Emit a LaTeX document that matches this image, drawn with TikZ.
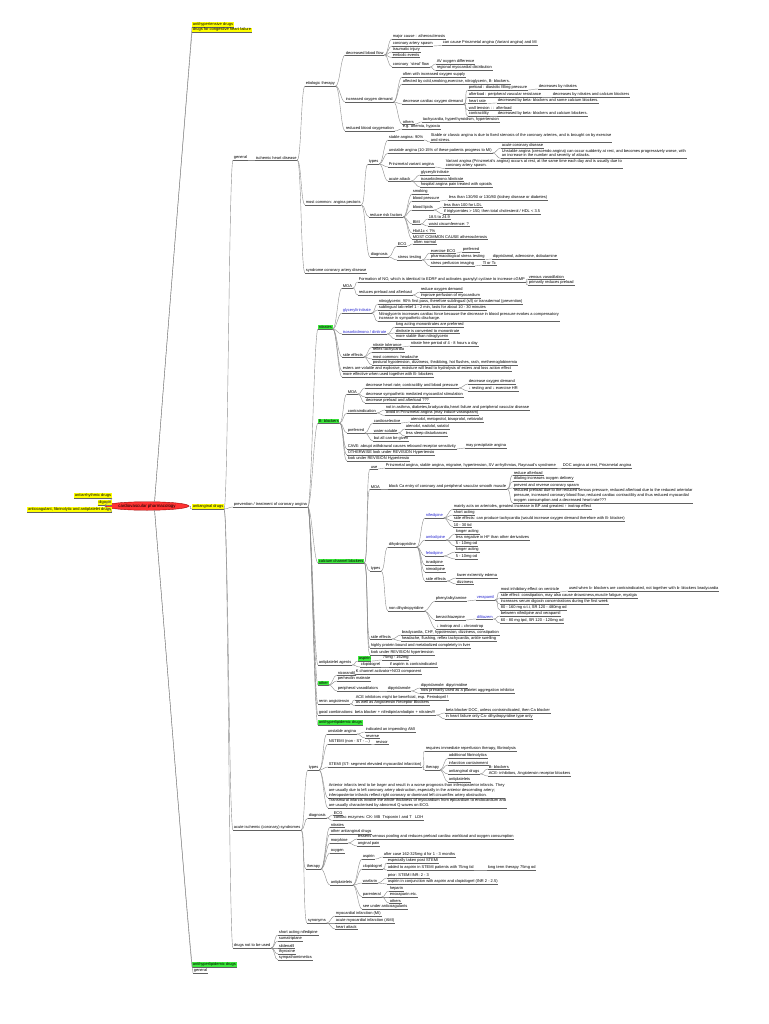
\documentclass[tikz,border=0pt]{standalone}
\usepackage{fontspec}
\setmainfont{Liberation Sans}
\usetikzlibrary{shapes.geometric}
\definecolor{hly}{RGB}{255,255,0}
\definecolor{hlg}{RGB}{60,235,60}
\definecolor{cred}{RGB}{255,50,50}
\definecolor{cblu}{RGB}{40,40,210}
\tikzset{
  ul/.style={draw=black!62,line width=0.55pt},
  cnx/.style={draw=black!45,line width=0.4pt},
  tn/.style={anchor=south west,inner xsep=0.6pt,inner ysep=0.5pt,yshift=-2pt,
    font=\fontsize{4}{4.9}\selectfont,align=left,
    append after command={(\tikzlastnode.south west) edge[ul] (\tikzlastnode.south east)}},
  tnl/.style={tn,anchor=south east},
  yel/.style={fill=hly},
  grn/.style={fill=hlg},
  blu/.style={text=cblu},
}
\newcommand\ch[6][]{\node[tn,#1] (#3) at (#4,#5) {#6};
  \draw[cnx] (#2.south east) .. controls +(4,0) and +(-4,0) .. (#3.south west);}
\begin{document}
\begin{tikzpicture}[x=1pt,y=-1pt]
\useasboundingbox[fill=white] (0,0) rectangle (768,1024);
% centre
\node[ellipse,fill=cred,draw=red!60!black,line width=0.4pt,inner xsep=1pt,inner ysep=0pt,
  minimum width=70pt,minimum height=8.5pt,font=\fontsize{4.4}{5}\selectfont] (cen) at (147,506) {cardiovascular pharmacology};
% left
\node[tnl,yel] (arr) at (112,496) {antiarrhythmic drugs};
\node[tnl,yel] (dig) at (112,503) {digoxin};
\node[tnl,yel] (acg) at (112,510) {anticoagulant, fibrinolytic and antiplatelet drugs};
\foreach \n in {arr,dig,acg} \draw[cnx] (cen.west) .. controls +(-2,0) and +(2,0) .. (\n.south east);
% right top/bottom
\node[tn,yel] (aht) at (192,25) {antihypertensive drugs};
\node[tn,yel] (chf) at (192,30.5) {drugs for congestive heart failure};
\node[tn,yel] (aa) at (192,507) {antianginal drugs};
\node[tn,grn] (ahl) at (192,965) {antihyperlipidemic drugs};
\node[tn] (gen2) at (193,971) {general};
\draw[cnx] (cen.30) .. controls (170,300) and (188,80) .. (aht.south west);
\draw[cnx] (cen.30) .. controls (170,300) and (188,80) .. (chf.south west);
\draw[cnx] (cen.east) .. controls +(4,0) and +(-4,0) .. (aa.south west);
\draw[cnx] (cen.-30) .. controls (170,700) and (188,930) .. (ahl.south west);
\draw[cnx] (cen.-30) .. controls (170,700) and (188,930) .. (gen2.south west);
% antianginal
\ch{aa}{gen}{233}{158}{general}
\ch{aa}{prev}{233}{505}{prevention / treatment of coronary angina}
\ch{aa}{acs}{233}{828}{acute ischemic (coronary) syndromes}
\ch{aa}{dnu}{233}{946}{drugs not to be used}
% general
\ch{gen}{ihd}{255}{158}{ischemic heart disease}
\ch{ihd}{et}{305}{84}{etiologic therapy}
\ch{ihd}{mc}{305}{203}{most common: angina pectoris}
\ch{ihd}{syn}{305}{271}{syndrome coronary artery disease}
\ch{et}{dbf}{345}{53}{decreased blood flow}
\ch{et}{iod}{345}{100}{increased oxygen demand}
\ch{et}{rbo}{345}{129}{reduced blood oxygenation}
\ch{dbf}{d1}{392}{37}{major cause : atherosclerosis}
\ch{dbf}{d2}{392}{44}{coronary artery spasm}
\ch{d2}{d2a}{442}{43.5}{can cause Prinzmetal angina (Variant angina) and MI}
\ch{dbf}{d3}{392}{50}{traumatic injury}
\ch{dbf}{d4}{392}{55.5}{embolic events}
\ch{dbf}{d5}{392}{65}{coronary \ `steal' flow}
\ch{d5}{d5a}{436}{62}{AV oxygen difference}
\ch{d5}{d5b}{436}{68.5}{regional myocardial distribution}
\ch{iod}{i1}{402}{75}{often with increased oxygen supply}
\ch{iod}{i2}{402}{82}{affected by cold,smoking,exercise, nitroglycerin, B- blockers.}
\ch{iod}{i3}{402}{102}{decrease cardiac oxygen demand}
\ch{i3}{i3a}{468}{88}{preload : diastolic filling pressure}
\ch{i3a}{i3a1}{538}{87}{decreases by nitrates}
\ch{i3}{i3b}{468}{95}{afterload : peripheral vascular resistance}
\ch{i3b}{i3b1}{552}{95}{decreases by nitrates and calcium blockers}
\ch{i3}{i3c}{468}{101.5}{heart rate}
\ch{i3c}{i3c1}{497}{101}{decreased by beta- blockers and some calcium blockers.}
\ch{i3}{i3d}{468}{108}{wall tension : : afterload}
\ch{i3}{i3e}{468}{114.5}{contractility}
\ch{i3e}{i3e1}{497}{114.5}{decreased by beta- blockers and calcium blockers.}
\ch{iod}{i4}{402}{122}{others}
\ch{i4}{i4a}{422}{120}{tachycardia, hyperthyroidism, hypertension}
\ch{rbo}{rb1}{402}{127}{e.g. anemia, hypoxia}
% angina pectoris
\ch{mc}{ty}{368}{162}{types}
\ch{mc}{rrf}{369}{215}{reduce risk factors}
\ch{mc}{dx}{370}{255}{diagnosis}
\ch{ty}{t1}{388}{138}{stable angina: 90\%}
\ch{t1}{t1a}{430}{140}{Stable or classic angina is due to fixed stenosis of the coronary arteries, and is brought on by exercise\\and stress.}
\ch{ty}{t2}{388}{151}{unstable angina (10-15\% of these patients progress to MI)}
\ch{t2}{t2a}{501}{146}{acute coronary disease}
\ch{t2}{t2b}{501}{156.5}{Unstable angina (crescendo angina) can occur suddenly at rest, and becomes progressively worse, with\\an increase in the number and severity of attacks.}
\ch{ty}{t3}{388}{165}{Prinzmetal variant angina}
\ch{t3}{t3a}{445}{166.5}{Variant angina (Prinzmetal's angina) occurs at rest, at the same time each day and is usually due to\\coronary artery spasm.}
\ch{ty}{t4}{388}{179}{acute attack}
\ch{t4}{t4a}{420}{173}{glyceryltrinitrate}
\ch{t4}{t4b}{420}{179}{isosorbidmono /dinitrate}
\ch{t4}{t4c}{420}{185}{hospital angina pain treated with opioids}
\ch{rrf}{r1}{412}{192}{smoking}
\ch{rrf}{r2}{412}{199}{blood pressure}
\ch{r2}{r2a}{448}{198}{less than 130/90 or 130/80 (kidney disease or diabetes)}
\ch{rrf}{r3}{412}{208}{blood lipids}
\ch{r3}{r3a}{443}{205}{less than 100 for LDL}
\ch{r3}{r3b}{443}{212}{if triglycerides {\textgreater} 150, then total cholesterol / HDL {\textless} 3.5}
\ch{rrf}{r4}{412}{222}{BMI}
\ch{r4}{r4a}{428}{217}{18.5 to 24.9}
\ch{r4}{r4b}{428}{224}{waist circumference: ?}
\ch{rrf}{r5}{412}{231}{HbA1c {\textless} 7\%}
\ch{rrf}{r6}{412}{237}{MOST COMMON CAUSE atherosclerosis}
\ch{dx}{e1}{397}{244}{ECG}
\ch{e1}{e1a}{413}{242}{often normal}
\ch{dx}{e2}{397}{258}{stress testing}
\ch{e2}{e2a}{430}{251}{exercise ECG}
\ch{e2a}{e2a1}{462}{250}{preferred}
\ch{e2}{e2b}{430}{257.5}{pharmacological stress testing}
\ch{e2b}{e2b1}{492}{257}{dipyridamol, adenosine, dobutamine}
\ch{e2}{e2c}{430}{264}{stress perfusion imaging}
\ch{e2c}{e2c1}{482}{263}{Tl or Tc}
% prevention / treatment
\ch[grn]{prev}{nit}{318}{327}{nitrates}
\ch[grn]{prev}{bb}{318}{421}{B- blockers}
\ch[grn]{prev}{ccb}{318}{561}{calcium channel blockers}
\ch{prev}{apa}{318}{663}{antiplatelet agents}
\ch[grn]{prev}{oth}{318}{683}{other}
\ch{prev}{ras}{318}{702}{renin angiotensin}
\ch{prev}{gc}{318}{713}{good combinations: beta blocker + nifedipin/amlodipin + nitrates!!!}
\ch[grn]{prev}{ahl1}{318}{723}{antihyperlipidemic drugs}
% nitrates
\ch{nit}{nm}{342}{286}{MOA}
\ch{nm}{nm1}{358}{280}{Formation of NO, which is identical to EDRF and activates guanylyl cyclase to increase cGMP}
\ch{nm1}{nm1a}{528}{277}{venous vasodilation}
\ch{nm1}{nm1b}{528}{283}{primarily reduces preload}
\ch{nm}{nm2}{358}{293}{reduces preload and afterload}
\ch{nm2}{nm2a}{420}{290}{reduce oxygen demand}
\ch{nm2}{nm2b}{420}{296}{improve perfusion of myocardium}
\ch[blu]{nit}{gtn}{342}{311}{glyceryltrinitrate}
\ch{gtn}{g1}{378}{302}{nitroglycerin: 90\% first pass, therefore sublingual (s/l) or transdermal (prevention)}
\ch{gtn}{g2}{378}{308}{sublingual tab relief 1 - 2 min, lasts for about 10 - 30 minutes}
\ch{gtn}{g3}{378}{319.5}{Nitroglycerin increases cardiac force because the decrease in blood pressure evokes a compensatory\\increase in sympathetic discharge.}
\ch[blu]{nit}{isd}{342}{332}{isosorbidmono / dinitrate}
\ch{isd}{s1}{395}{325}{long acting mononitrates are preferred}
\ch{isd}{s2}{395}{331}{dinitrate is converted to mononitrate}
\ch{isd}{s3}{395}{337}{more stable than nitroglycerin}
\ch{nit}{nse}{342}{355}{side effects}
\ch{nse}{se1}{372}{345}{nitrate tolerance}
\ch{se1}{se1a}{410}{344}{nitrate free period of 4 - 8 hours a day}
\ch{nse}{se2}{372}{350.5}{reflex tachycardia}
\ch{nse}{se3}{372}{357}{most common: headache}
\ch{nse}{se4}{372}{363}{postural hypotension, dizziness, throbbing, hot flushes, rash, methemoglobinemia}
\ch{nit}{nes}{342}{369}{esters are volatile and explosive, moisture will lead to hydrolysis of esters and loss action effect}
\ch{nit}{nmo}{342}{375}{more effective when used together with B- blockers}
% beta blockers
\ch{bb}{bm}{347}{392}{MOA}
\ch{bm}{bm1}{365}{386}{decrease heart rate, contractility and blood pressure}
\ch{bm1}{bm1a}{468}{382}{decrease oxygen demand}
\ch{bm1}{bm1b}{468}{389}{↓ resting and ↓ exercise HR}
\ch{bm}{bm2}{365}{395}{decrease sympathetic mediated myocardial stimulation}
\ch{bm}{bm3}{365}{401}{decrease preload and afterload ???}
\ch{bb}{bc}{347}{411}{contraindication}
\ch{bc}{bc1}{385}{408}{not in asthma, diabetes,bradycardia,heart failure and peripheral vascular disease}
\ch{bc}{bc2}{385}{413.5}{avoid in Prinzmetal angina (may induce vasospasm)}
\ch{bb}{bp}{347}{431}{preferred}
\ch{bp}{bp1}{373}{421}{cardioselective}
\ch{bp1}{bp1a}{410}{420}{atenolol, metoprolol, bisoprolol, nebivolol}
\ch{bp}{bp2}{373}{431}{water soluble}
\ch{bp2}{bp2a}{405}{427}{atenolol, nadolol, sotalol}
\ch{bp2}{bp2b}{405}{434}{less sleep disturbances}
\ch{bp}{bp3}{373}{439}{but all can be given}
\ch{bb}{bcv}{347}{447}{CAVE: abrupt withdrawal causes rebound receptor sensitivity}
\ch{bcv}{bcv1}{465}{446}{may precipitate angina}
\ch{bb}{bo}{347}{453}{OTHERWISE look under REVISION Hypertensio}
\ch{bb}{bl}{347}{459}{look under REVISION Hypertensio}
% calcium channel blockers
\ch{ccb}{cu}{370}{467}{use}
\ch{cu}{cu1}{385}{466}{Prinzmetal angina, stable angina, migraine, hypertension, SV arrhythmias, Raynaud's syndrome}
\ch{cu1}{cu1a}{562}{466}{DOC angina at rest, Prinzmetal angina}
\ch{ccb}{cm}{370}{487}{MOA}
\ch{cm}{cm1}{388}{487}{block Ca entry of coronary and peripheral vascular smooth muscle}
\ch{cm1}{cm1a}{513}{473}{reduce afterload}
\ch{cm1}{cm1b}{513}{479.5}{dilating increases oxygen delivery}
\ch{cm1}{cm1c}{513}{486}{prevent and reverse coronary spasm}
\ch{cm1}{cm1d}{513}{501}{reduced preload due to the reduced venous pressure, reduced afterload due to the reduced arteriolar\\pressure, increased coronary blood flow, reduced cardiac contractility and thus reduced myocardial\\oxygen consumption and a decreased heart rate???}
\ch{ccb}{ct}{370}{569}{types}
\ch{ct}{dhp}{388}{545}{dihydropyridine}
\ch[blu]{dhp}{nif}{425}{516}{nifedipine}
\ch{nif}{n1}{453}{507}{mainly acts on arterioles, greatest increase in BP and greatest ↑ inotrop effect}
\ch{nif}{n2}{453}{513}{short acting}
\ch{nif}{n3}{453}{519}{side effects: can produce tachycardia (would increase oxygen demand therefore with B- blocker)}
\ch{nif}{n4}{453}{525}{10 - 30 tid}
\ch[blu]{dhp}{aml}{425}{538}{amlodipine}
\ch{aml}{a1}{455}{532}{longer acting}
\ch{aml}{a2}{455}{538}{less negative in HF than other derivatives}
\ch{aml}{a3}{455}{544}{5 - 10mg od}
\ch[blu]{dhp}{fel}{425}{554}{felodipine}
\ch{fel}{f1}{455}{550}{longer acting}
\ch{fel}{f2}{455}{557}{5 - 10mg od}
\ch{dhp}{isr}{425}{563}{isradipine}
\ch{dhp}{nim}{425}{570}{nimodipine}
\ch{dhp}{dse}{425}{579}{side effects}
\ch{dse}{ds1}{456}{576}{lower extremity edema}
\ch{dse}{ds2}{456}{582}{dizziness}
\ch{ct}{ndhp}{388}{609}{non dihydropyridine}
\ch{ndhp}{pha}{435}{599}{phenylalkylamine}
\ch[blu]{pha}{ver}{476}{598}{verapamil}
\ch{ver}{v1}{500}{590}{most inhibitory effect on ventricle}
\ch{v1}{v1a}{568}{589}{used when b- blockers are contraindicated, not together with b- blockers bradycardia}
\ch{ver}{v2}{500}{596}{side effect: constipation, may also cause drowsiness,muscle fatigue, myalgia}
\ch{ver}{v3}{500}{602}{increases serum digoxin concentrations during the first week}
\ch{ver}{v4}{500}{608}{80 - 160 mg o.t.i, SR 120 - 480mg od}
\ch{ndhp}{btz}{435}{618}{benzothiazepine}
\ch[blu]{btz}{dil}{476}{617}{diltiazem}
\ch{dil}{dl1}{500}{614}{between nifedipine and verapamil}
\ch{dil}{dl2}{500}{621}{60 - 80 mg tpd, SR 120 - 120mg od}
\ch{ndhp}{ino}{436}{627}{↓ inotrop and ↓ chronotrop}
\ch{ccb}{cse}{370}{637}{side effects}
\ch{cse}{cs1}{401}{633}{bradycardia, CHF, hypotension, dizziness, constipation}
\ch{cse}{cs2}{401}{639}{headache, flushing, reflex tachycardia, ankle swelling}
\ch{ccb}{chp}{370}{646}{highly protein bound and metabolized completely in liver}
\ch{ccb}{clk}{370}{653}{look under REVISION hypertension}
% antiplatelet
\ch[grn]{apa}{asp}{358}{659}{aspirin}
\ch{asp}{asp1}{382}{658}{75mg - 162mg}
\ch{apa}{clo}{360}{665}{clopidogrel}
\ch{clo}{clo1}{389}{665}{if aspirin is contraindicated}
% other
\ch{oth}{o1}{337}{673}{nicorandil}
\ch{o1}{o1a}{355}{672}{K channel activator+NO3 component}
\ch{oth}{o2}{337}{679}{perhexilin maleate}
\ch{oth}{o3}{337}{689}{peripheral vasodilators}
\ch{o3}{o3a}{387}{689}{dipyridamole}
\ch{o3a}{o3a1}{420}{686}{dipyridamole: dipyrimidine}
\ch{o3a}{o3a2}{420}{691.5}{now primarily used as a platelet aggregation inhibitor}
\ch{ras}{ra1}{355}{698}{ACE inhibitors might be beneficial, esp. Perindopril !}
\ch{ras}{ra2}{355}{703.5}{as well as Angiotensin Receptor Blockers}
\ch{gc}{gc1}{445}{711}{beta blocker DOC, unless contraindicated, then Ca blocker}
\ch{gc}{gc2}{445}{717}{in heart failure only Ca- dihydropyridine type only}
% acute ischemic syndromes
\ch{acs}{aty}{308}{768}{types}
\ch{aty}{ua}{327}{732}{unstable angina}
\ch{ua}{ua1}{365}{730}{indicated an impending AMI}
\ch{ua}{ua2}{365}{736}{reverse}
\ch{aty}{nst}{328}{742}{NSTEMI (non - ST - ...)}
\ch{nst}{nst1}{375}{742}{revisor}
\ch{aty}{ste}{328}{765}{STEMI (ST- segment elevated myocardial infarction)}
\ch{ste}{st1}{425}{749}{requires immediate reperfusion therapy, fibrinolysis}
\ch{ste}{stt}{425}{768}{therapy}
\ch{stt}{sa}{448}{756}{additional fibrinolytics}
\ch{stt}{sb}{448}{763}{infarction containment}
\ch{stt}{sc}{448}{772}{antianginal drugs}
\ch{sc}{sc1}{488}{767}{B- blockers}
\ch{sc}{sc2}{488}{774}{ACE- inhibitors, Angiotensin receptor blockers}
\ch{stt}{sd}{448}{780}{antiplatelets}
\ch{aty}{ant}{328}{796}{Anterior infarcts tend to be larger and result in a worse prognosis than inferoposterior infarcts. They\\are usually due to left coronary artery obstruction, especially in the anterior descending artery;\\inferoposterior infarcts reflect right coronary or dominant left circumflex artery obstruction.}
\ch{aty}{trm}{328}{806}{Transmural infarcts involve the whole thickness of myocardium from epicardium to endocardium and\\are usually characterised by abnormal Q waves on ECG.}
\ch{acs}{adx}{308}{816}{diagnosis}
\ch{adx}{ax1}{333}{813}{ECG}
\ch{adx}{ax2}{333}{818.5}{cardiac enzymes: CK- MB \ Troponin I and T \ \ LDH}
\ch{acs}{ath}{306}{867}{therapy}
\ch{ath}{th1}{330}{825}{nitrates}
\ch{ath}{th2}{330}{832}{other antianginal drugs}
\ch{ath}{th3}{330}{841}{morphine}
\ch{th3}{th3a}{357}{837}{lessens venous pooling and reduces preload cardiac workload and oxygen consumption}
\ch{th3}{th3b}{357}{844}{anginal pain}
\ch{ath}{th4}{330}{851}{oxygen}
\ch{ath}{th5}{330}{883}{antiplatelets}
\ch{th5}{p1}{362}{857}{aspirin}
\ch{p1}{p1a}{383}{855}{after case 162-325mg d for 1 - 3 months}
\ch{th5}{p2}{362}{867}{clopidogrel}
\ch{p2}{p2a}{387}{861}{especially taken post STEMI}
\ch{p2}{p2b}{387}{868}{added to aspirin in STEMI patients with 75mg tid}
\ch{p2b}{p2b1}{487}{868}{long term therapy 75mg od}
\ch{th5}{p3}{362}{881}{warfarin}
\ch{p3}{p3a}{387}{876}{prior: STEMI INR: 2 - 3}
\ch{p3}{p3b}{387}{882}{aspirin in conjunction with aspirin and clopidogrel (INR 2 - 2.5)}
\ch{th5}{p4}{362}{895}{parenteral}
\ch{p4}{p4a}{389}{889}{heparin}
\ch{p4}{p4b}{389}{895}{enoxaparin etc.}
\ch{p4}{p4c}{389}{901}{others}
\ch{th5}{p5}{362}{907}{see under anticoagulants}
\ch{acs}{asy}{307}{921}{synonyms}
\ch{asy}{sy1}{335}{914}{myocardial infarction (MI)}
\ch{asy}{sy2}{335}{921}{acute myocardial infarction (AMI)}
\ch{asy}{sy3}{335}{927}{heart attack}
% drugs not to be used
\ch{dnu}{dn1}{278}{933}{short acting nifedipine}
\ch{dnu}{dn2}{278}{939}{sumatriptane}
\ch{dnu}{dn3}{278}{946}{sildenafil}
\ch{dnu}{dn4}{278}{952}{thyroxine}
\ch{dnu}{dn5}{278}{958}{sympathomimetics}
\end{tikzpicture}
\end{document}
